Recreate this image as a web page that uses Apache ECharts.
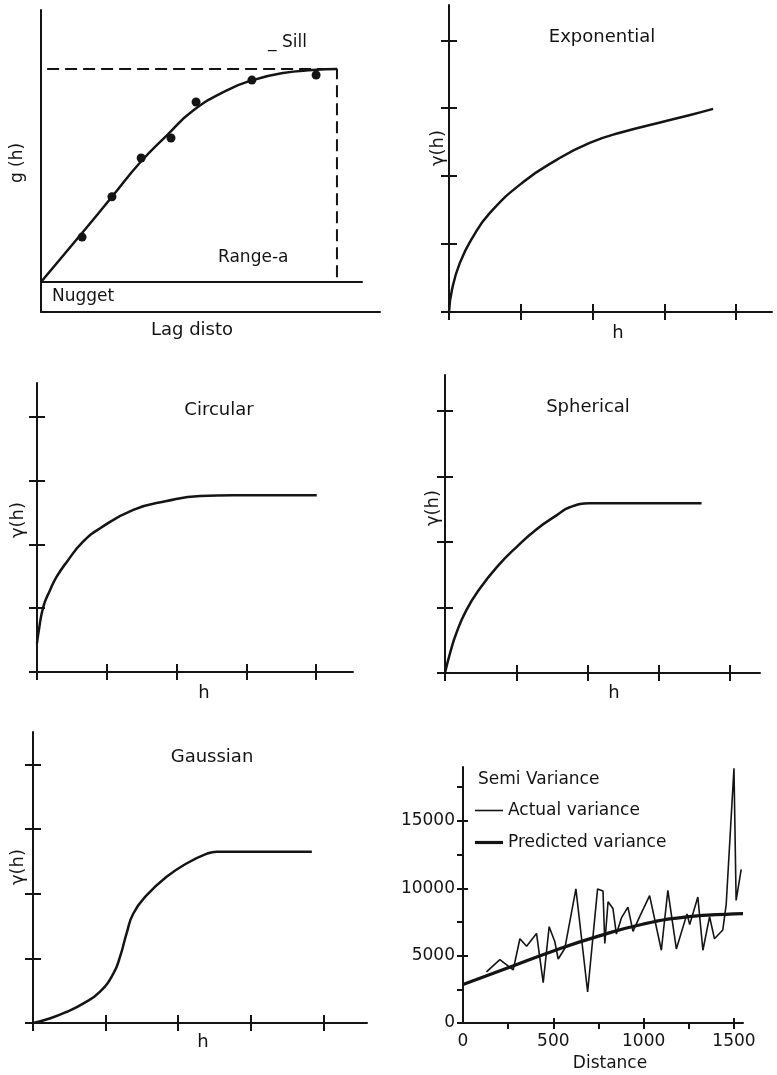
<!DOCTYPE html>
<html>
<head>
<meta charset="utf-8">
<title>Semivariogram models</title>
<script src="https://cdn.jsdelivr.net/npm/echarts@6/dist/echarts.min.js"></script>
<style>
  html, body { margin: 0; padding: 0; background: #fff; }
  #chart { width: 777px; height: 1075px; }
</style>
</head>
<body>
<div id="chart"></div>
<script>
// panel 1: experimental points + fitted model (lag in % of axis, g(h) in units of sill)
const lagX = [0, 12.8, 22.1, 30.8, 39.3, 47.4, 57.9, 66.0, 75.4, 84.7, 92.2];
const lagFit = [0, 0.23, 0.40, 0.56, 0.69, 0.805, 0.90, 0.948, 0.981, 0.995, 1.0];
const pointX = [12.8, 22.1, 31.2, 40.5, 48.3, 65.7, 85.7];
const pointY = [0.211, 0.40, 0.582, 0.676, 0.845, 0.948, 0.972];
const sillX = [1.9, 92.2, 92.2];
const sillY = [1, 1, 0];

// model curves, h and gamma in tick units
const expH = [0, 0.04, 0.15, 0.33, 0.57, 1.03, 1.50, 1.96, 2.42, 2.90, 3.36, 3.68];
const expG = [0, 0.32, 0.72, 1.10, 1.46, 1.91, 2.24, 2.49, 2.65, 2.78, 2.90, 2.99];
const circH = [0, 0.02, 0.09, 0.19, 0.28, 0.43, 0.65, 0.90, 1.38, 1.86, 2.34, 2.81, 4.01];
const circG = [0.45, 0.61, 1.02, 1.29, 1.49, 1.73, 2.03, 2.25, 2.54, 2.68, 2.76, 2.77, 2.77];
const sphH = [0, 0.07, 0.16, 0.30, 0.49, 0.73, 1.01, 1.29, 1.57, 1.75, 2.03, 3.60];
const sphG = [0, 0.30, 0.61, 0.96, 1.29, 1.62, 1.93, 2.20, 2.41, 2.53, 2.59, 2.59];
const gauH = [0, 0.23, 0.46, 0.69, 0.92, 1.11, 1.20, 1.29, 1.38, 1.57, 1.84, 2.12, 2.40, 2.53, 3.84];
const gauG = [0, 0.07, 0.17, 0.30, 0.48, 0.77, 1.03, 1.39, 1.69, 1.98, 2.26, 2.47, 2.62, 2.65, 2.65];
const unitTicks = [0, 1, 2, 3, 4];

// semi variance vs distance
const actualDist = [130, 204, 278, 315, 352, 407, 444, 477, 508, 527, 564, 625, 690, 745, 775, 785, 803, 830,
  849, 877, 913, 941, 978, 1033, 1098, 1134, 1181, 1240, 1255, 1300, 1328, 1365, 1392, 1438, 1457, 1500, 1512, 1540];
const actualVar = [3800, 4700, 3950, 6250, 5700, 6650, 3000, 7150, 6050, 4750, 5550, 9950, 2300, 9950, 9800, 5900, 9000, 8500,
  6600, 7800, 8600, 6800, 7900, 9450, 5400, 9850, 5500, 8100, 7300, 9350, 5400, 7900, 6250, 6900, 8800, 18900, 9100, 11400];
const predDist = [0, 250, 500, 750, 1000, 1250, 1500, 1550];
const predVar = [2850, 4100, 5350, 6450, 7350, 7900, 8100, 8120];
const distLabels = [0, 500, 1000, 1500];
const distTicks = [250, 500, 750, 1000, 1250, 1500];
const varLabels = [0, 5000, 10000, 15000];
const varTicks = [0, 2500, 5000, 7500, 10000, 12500, 15000, 17500];

const ink = '#141414';
const fam = '"DejaVu Sans", sans-serif';
const pairs = (xs, ys) => xs.map((x, i) => [x, ys[i]]);

const grids = [
  { left: 41, top: 10, width: 321, height: 272 },   // variogram
  { left: 41, top: 282, width: 339, height: 30 },   // nugget strip
  { left: 449, top: 5, width: 323, height: 307 },   // exponential
  { left: 37, top: 383, width: 316, height: 289 },  // circular
  { left: 445, top: 375, width: 315, height: 298 }, // spherical
  { left: 33, top: 732, width: 334, height: 291 },  // gaussian
  { left: 463, top: 767, width: 280, height: 256 }  // semi variance
].map(g => Object.assign({ outerBoundsMode: 'none', containLabel: false }, g));

const xAxes = [];
const yAxes = [];

function axis(gridIndex, min, max, extra) {
  return Object.assign({
    type: 'value', gridIndex: gridIndex, min: min, max: max,
    axisLine: { show: true, onZero: false, lineStyle: { color: ink, width: 2 } },
    axisTick: { show: false },
    axisLabel: { show: false },
    splitLine: { show: false }
  }, extra || {});
}
function ticks(values, len, w) {
  return { show: true, length: len, customValues: values, lineStyle: { color: ink, width: w || 2 } };
}
const hidden = { show: false, onZero: false };
// main axis + a mirrored copy moved onto it, so the ticks cross the line
function tickedAxes(gi, xMax, yMax, xTicks, yTicks, len) {
  const g = grids[gi];
  const xi = xAxes.push(axis(gi, 0, xMax, { axisTick: ticks(xTicks, len) })) - 1;
  xAxes.push(axis(gi, 0, xMax, { position: 'top', offset: -g.height, axisLine: hidden, axisTick: ticks(xTicks, len) }));
  const yi = yAxes.push(axis(gi, 0, yMax, { axisTick: ticks(yTicks, len) })) - 1;
  yAxes.push(axis(gi, 0, yMax, { position: 'right', offset: -g.width, axisLine: hidden, axisTick: ticks(yTicks, len) }));
  return [xi, yi];
}

// panel 1 axes
xAxes.push(axis(0, 0, 100)); yAxes.push(axis(0, 0, 1.277));
xAxes.push(axis(1, 0, 100)); yAxes.push(axis(1, 0, 1));

const exp = tickedAxes(2, 4.5, 4.52, unitTicks, unitTicks, 8);
const circ = tickedAxes(3, 4.53, 4.53, unitTicks, unitTicks, 8);
const sph = tickedAxes(4, 4.42, 4.55, unitTicks, unitTicks, 8);
const gau = tickedAxes(5, 4.6, 4.5, unitTicks, unitTicks, 8);

// panel 6 axes: minor ticks outside, major ticks crossing, labelled
const labelStyle = { show: true, color: ink, fontSize: 17, fontFamily: fam, formatter: v => String(v) };
const semiX = xAxes.push(axis(6, 0, 1550, {
  axisTick: ticks(distTicks, 6),
  axisLabel: Object.assign({ customValues: distLabels, margin: 10 }, labelStyle)
})) - 1;
xAxes.push(axis(6, 0, 1550, { position: 'top', offset: -256, axisLine: hidden, axisTick: ticks([500, 1000, 1500], 5) }));
const semiY = yAxes.push(axis(6, 0, 19000, {
  axisTick: ticks(varTicks, 6),
  axisLabel: Object.assign({ customValues: varLabels, margin: 8 }, labelStyle)
})) - 1;
yAxes.push(axis(6, 0, 19000, { position: 'right', offset: -280, axisLine: hidden, axisTick: ticks(varLabels, 5) }));

function curve(name, ax, data, width, extra) {
  return Object.assign({
    name: name, type: 'line', xAxisIndex: ax[0], yAxisIndex: ax[1], data: data,
    symbol: 'none', showSymbol: false, smooth: 0.5,
    lineStyle: { color: ink, width: width }, itemStyle: { color: ink }
  }, extra || {});
}

const series = [
  curve('fit', [0, 0], pairs(lagX, lagFit), 2.5),
  { name: 'points', type: 'scatter', xAxisIndex: 0, yAxisIndex: 0, data: pairs(pointX, pointY),
    symbol: 'circle', symbolSize: 9, itemStyle: { color: ink, opacity: 1 } },
  curve('sill', [0, 0], pairs(sillX, sillY), 2, { smooth: false, lineStyle: { color: ink, width: 2, type: [12, 6] } }),
  curve('Exponential', exp, pairs(expH, expG), 2.5),
  curve('Circular', circ, pairs(circH, circG), 2.5),
  curve('Spherical', sph, pairs(sphH, sphG), 2.5),
  curve('Gaussian', gau, pairs(gauH, gauG), 2.5),
  curve('Actual variance', [semiX, semiY], pairs(actualDist, actualVar), 1.6, { smooth: false }),
  curve('Predicted variance', [semiX, semiY], pairs(predDist, predVar), 3.2)
];

const font = '17px ' + fam;
const titleFont = '18px ' + fam;
function txt(text, x, y, align, rot, f) {
  return {
    type: 'text', x: x, y: y, rotation: rot ? Math.PI / 2 : 0,
    style: { text: text, font: f || font, fill: ink, align: align || 'center', verticalAlign: 'middle',
      textAlign: align || 'center', textVerticalAlign: 'middle' }
  };
}

const texts = [
  txt('_ Sill', 268, 43, 'left'),
  txt('Range-a', 218, 258, 'left'),
  txt('Nugget', 52, 297, 'left'),
  txt('Lag disto', 192, 330, 'center', false, titleFont),
  txt('g (h)', 18, 163, 'center', true),
  txt('Exponential', 602, 37, 'center', false, titleFont),
  txt('h', 618, 333, 'center', false, titleFont),
  txt('γ(h)', 438, 148, 'center', true, titleFont),
  txt('Circular', 219, 410, 'center', false, titleFont),
  txt('h', 204, 693, 'center', false, titleFont),
  txt('γ(h)', 18, 520, 'center', true, titleFont),
  txt('Spherical', 588, 407, 'center', false, titleFont),
  txt('h', 614, 693, 'center', false, titleFont),
  txt('γ(h)', 433, 508, 'center', true, titleFont),
  txt('Gaussian', 212, 757, 'center', false, titleFont),
  txt('h', 203, 1042, 'center', false, titleFont),
  txt('γ(h)', 18, 867, 'center', true, titleFont),
  txt('Semi Variance', 478, 780, 'left'),
  txt('Distance', 610, 1064)
];

const chart = echarts.init(document.getElementById('chart'));
chart.setOption({
  backgroundColor: '#fff',
  animation: false,
  textStyle: { fontFamily: fam, color: ink },
  grid: grids,
  xAxis: xAxes,
  yAxis: yAxes,
  legend: {
    data: [
      { name: 'Actual variance', icon: 'path://M0,0H28V1.6H0Z' },
      { name: 'Predicted variance', icon: 'path://M0,0H28V3.2H0Z' }
    ],
    orient: 'vertical', left: 475, top: 802, padding: 0,
    itemWidth: 28, itemHeight: 14, itemGap: 15,
    selectedMode: false,
    itemStyle: { color: ink, borderWidth: 0 },
    textStyle: { fontSize: 17, color: ink, fontFamily: fam }
  },
  graphic: texts,
  series: series
});
</script>
</body>
</html>
